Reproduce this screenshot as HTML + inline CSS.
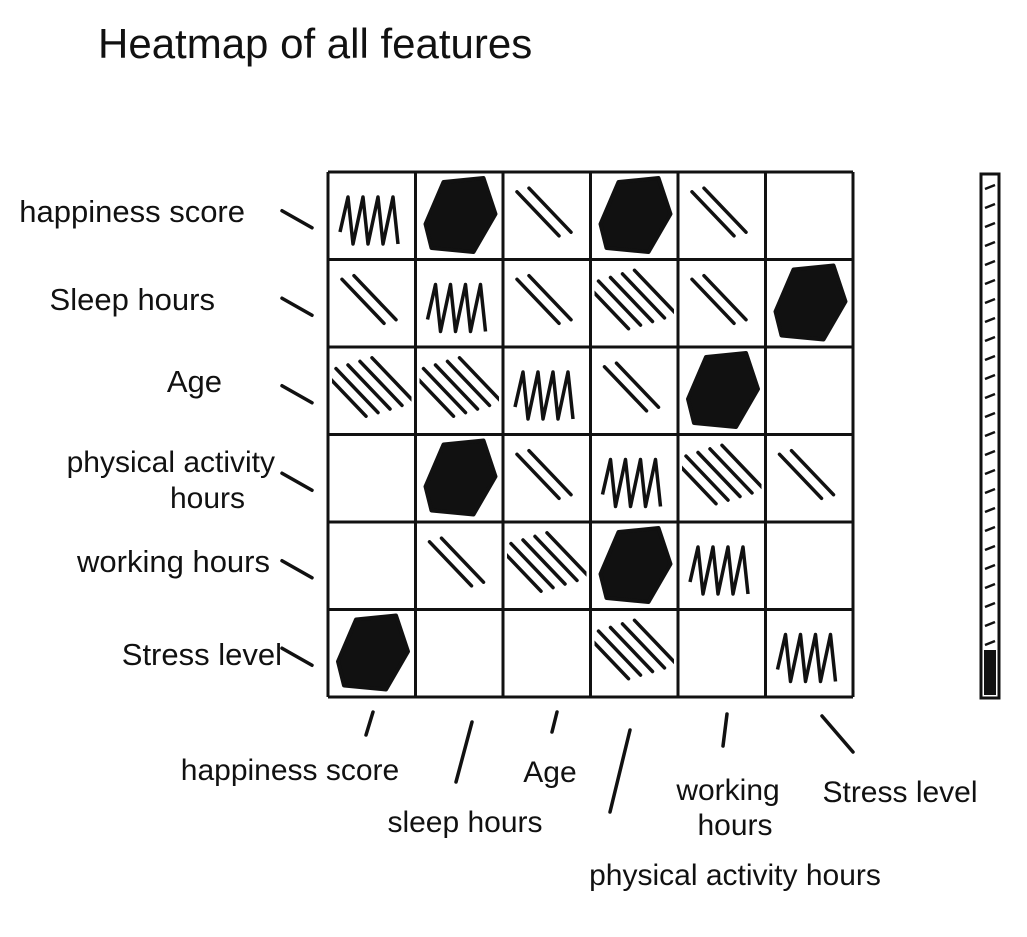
<!DOCTYPE html>
<html><head><meta charset="utf-8"><style>
html,body{margin:0;padding:0;background:#fff;}
svg{display:block;}
text{font-family:"Liberation Sans",sans-serif;fill:#111;}
</style></head><body>
<svg id="chart" width="1027" height="937" viewBox="0 0 1027 937">
<text x="98" y="58" font-size="42">Heatmap of all features</text>
<defs id="defs"></defs>
<g id="cells"></g>
<g id="grid"></g>
<g id="ylabels"></g>
<g id="xlabels"></g>
<g id="cbar"></g>
</svg>
<script>
const features = ["happiness score","Sleep hours","Age","physical activity hours","working hours","Stress level"];
const xLabels = ["happiness score","sleep hours","Age","physical activity hours","working hours","Stress level"];
const values = [
  [3,4,1,4,1,0],
  [1,3,1,2,1,4],
  [2,2,3,1,4,0],
  [0,4,1,3,2,1],
  [0,1,2,4,3,0],
  [4,0,0,2,0,3]
];
const NS="http://www.w3.org/2000/svg";
const x0=328,y0=172,cw=87.5,ch=87.5;
function xs(i){return x0+i*cw;}
function ys(j){return y0+j*ch;}
function mk(tag,attrs,parent){const e=document.createElementNS(NS,tag);for(const k in attrs)e.setAttribute(k,attrs[k]);parent.appendChild(e);return e;}
const defs=document.getElementById('defs');
const cells=document.getElementById('cells');
values.forEach((row,r)=>row.forEach((v,c)=>{
  const cx=xs(c),cy=ys(r);
  const cid='clip'+r+'_'+c;
  const cp=mk('clipPath',{id:cid},defs);
  mk('rect',{x:cx+4,y:cy+4,width:cw-8,height:ch-8},cp);
  const g=mk('g',{'clip-path':'url(#'+cid+')'},cells);
  
  
  if(v===4){
    mk('path',{d:`M${cx+10},${cy+52} L${cx+28},${cy+10} L${cx+68},${cy+6} L${cx+80},${cy+42} L${cx+58},${cy+80} L${cx+16},${cy+76} Z`,fill:'#111',stroke:'#111','stroke-width':4,'stroke-linejoin':'round'},g);
  } else if(v===3){
    let d=`M${cx+12},${cy+60}`;
    for(let k=0;k<4;k++){d+=` L${cx+20+k*15},${cy+25} L${cx+25+k*15},${cy+72}`;}
    mk('path',{d:d,fill:'none',stroke:'#111','stroke-width':3.5,'stroke-linejoin':'round'},g);
  } else if(v>0){
    const n=v===1?2:5;
    for(let k=0;k<n;k++){
      const off=(k-(n-1)/2)*12;
      mk('line',{x1:cx+20+off,y1:cy+18-off*0.3,x2:cx+62+off,y2:cy+62-off*0.3,stroke:'#111','stroke-width':3.5,'stroke-linecap':'round'},g);
    }
  }
}));
const grid=document.getElementById('grid');
for(let i=0;i<=6;i++){
  const l1=mk('line',{x1:xs(i),y1:y0,x2:xs(i),y2:ys(6),stroke:'#111','stroke-width':3},grid);
  
  const l2=mk('line',{x1:x0,y1:ys(i),x2:xs(6),y2:ys(i),stroke:'#111','stroke-width':3},grid);
  
}
const yl=document.getElementById('ylabels');
const ylx=[245,215,222,0,270,282];
const yly=[222,310,392,0,572,665];
features.forEach((f,j)=>{
  const y=ys(j)+ch/2;
  if(j===3){
    const t=mk('text',{x:275,y:472,'font-size':30,'text-anchor':'end'},yl);t.textContent='physical activity';
    
    const t2=mk('text',{x:245,y:508,'font-size':30,'text-anchor':'end'},yl);t2.textContent='hours';
    
  } else {
    const t=mk('text',{x:ylx[j],y:yly[j],'font-size':31,'text-anchor':'end'},yl);t.textContent=f;
    
  }
  const tk=mk('line',{x1:282,y1:y-5,x2:312,y2:y+12,stroke:'#111','stroke-width':3.5,'stroke-linecap':'round'},yl);
  
});
const xl=document.getElementById('xlabels');
const xpos=[[290,780],[465,832],[550,782],[735,885],[725,800],[900,802]];
const xtk=[[373,712,366,735],[472,722,456,782],[557,712,552,732],[630,730,610,812],[727,714,723,746],[822,716,853,752]];
xLabels.forEach((f,i)=>{
  const tk=mk('line',{x1:xtk[i][0],y1:xtk[i][1],x2:xtk[i][2],y2:xtk[i][3],stroke:'#111','stroke-width':3.5,'stroke-linecap':'round'},xl);
  
  if(i===4){
    const t=mk('text',{x:728,y:800,'font-size':30,'text-anchor':'middle'},xl);t.textContent='working';
    
    const t2=mk('text',{x:735,y:835,'font-size':30,'text-anchor':'middle'},xl);t2.textContent='hours';
    
  } else {
    const t=mk('text',{x:xpos[i][0],y:xpos[i][1],'font-size':30,'text-anchor':'middle'},xl);t.textContent=f;
    
  }
});
const cb=document.getElementById('cbar');
const r=mk('rect',{x:981,y:174,width:18,height:524,fill:'none',stroke:'#111','stroke-width':3},cb);

for(let k=0;k<26;k++){
  const y=185+k*19;
  const l=mk('line',{x1:985,y1:y+4,x2:995,y2:y,stroke:'#111','stroke-width':2.5},cb);
  
}
const bl=mk('rect',{x:984,y:650,width:12,height:45,fill:'#111'},cb);

</script>
</body></html>
